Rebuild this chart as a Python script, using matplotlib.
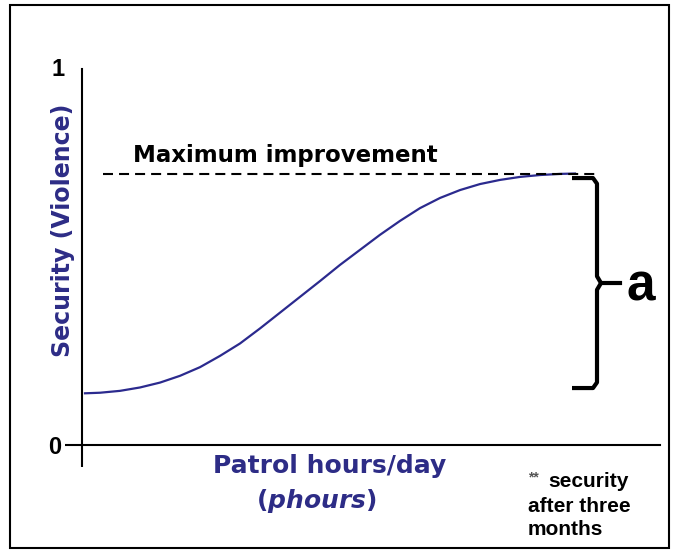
import matplotlib.pyplot as plt
from matplotlib.patches import Rectangle

# curva (x em unidades arbitrarias de horas, y de 0 a 1)
patrol_hours = [0.03, 0.18, 0.38, 0.58, 0.78, 0.98, 1.18, 1.38, 1.58,
                1.78, 1.98, 2.18, 2.38, 2.58, 2.78, 2.98, 3.18, 3.38,
                3.58, 3.78, 3.98, 4.18, 4.38, 4.58, 4.78, 4.93]
security = [0.1375, 0.139, 0.144, 0.153, 0.166, 0.184, 0.207, 0.237, 0.270,
            0.310, 0.352, 0.394, 0.436, 0.479, 0.519, 0.559, 0.596, 0.630,
            0.657, 0.678, 0.694, 0.705, 0.713, 0.718, 0.721, 0.722]
y_ticks = [0, 1]
y_tick_labels = ['0', '1']

blue = '#2d2c86'
curve_blue = '#2b2a8e'

plt.rcParams['mathtext.fontset'] = 'custom'
plt.rcParams['mathtext.it'] = 'DejaVu Sans:italic:bold'
plt.rcParams['mathtext.rm'] = 'DejaVu Sans:bold'

W, H = 673, 554
fig = plt.figure(figsize=(W / 100, H / 100), dpi=100)
ax = fig.add_axes([82 / W, (H - 445) / H, (660 - 82) / W, (445 - 69) / H])
ax.set_xlim(0, 5.78)
ax.set_ylim(0, 1)

# eixos
for s in ['top', 'right']:
    ax.spines[s].set_visible(False)
for s in ['left', 'bottom']:
    ax.spines[s].set_linewidth(1.5)
ax.set_xticks([0])
ax.set_xticklabels([''])
ax.set_yticks(y_ticks[:1])
ax.set_yticklabels(y_tick_labels[:1], fontfamily='Liberation Sans',
                   fontweight='bold', fontsize=17)
ax.tick_params(axis='x', length=15.8, width=1.5, direction='out')
ax.tick_params(axis='y', length=12.2, width=1.5, direction='out', pad=3)
# o "1" fica sem traco de marcacao
ax.text(-0.17, y_ticks[1], y_tick_labels[1], fontfamily='Liberation Sans',
        fontweight='bold', fontsize=17, ha='right', va='center')

# curva
ax.plot(patrol_hours, security, color=curve_blue, lw=1.6, clip_on=False,
        solid_joinstyle='round')

# linha de melhoria maxima
ymax = max(security)
ymin = min(security)
ax.plot([0.21, 5.16], [ymax, ymax], color='black', lw=1.5,
        dashes=(4.8, 2.9), clip_on=False)
ax.text(0.51, 0.753, 'Maximum improvement', fontfamily='DejaVu Sans',
        fontweight='bold', fontsize=16.5, va='baseline', ha='left')

# chave "a"
top = ymax - 0.012
bot = ymin + 0.014
mid = (top + bot) / 2
bx = [4.90, 5.11, 5.15, 5.15, 5.19, 5.15, 5.15, 5.11, 4.90]
by = [top, top, top - 0.015, mid + 0.018, mid, mid - 0.018, bot + 0.015, bot, bot]
ax.plot(bx, by, color='black', lw=3, solid_joinstyle='round',
        solid_capstyle='butt', clip_on=False)
ax.plot([5.19, 5.38], [mid, mid], color='black', lw=3, clip_on=False)
ax.text(5.59, 0.385, 'a', fontfamily='Liberation Sans', fontweight='bold',
        fontsize=37, ha='center', va='baseline')

# rotulos
ax.text(-0.19, 0.572, 'Security (Violence)', rotation=90, color=blue,
        fontfamily='DejaVu Sans', fontweight='bold', fontsize=17,
        ha='center', va='center')
ax.text(2.48, -0.074, 'Patrol hours/day', color=blue, fontfamily='DejaVu Sans',
        fontweight='bold', fontsize=18, ha='center', va='baseline')
ax.text(2.34, -0.168, r'($\mathit{phours}$)', color=blue,
        fontfamily='DejaVu Sans', fontweight='bold', fontsize=18,
        ha='center', va='baseline')

# nota
ax.text(4.46, -0.096, '**', color='#555555', fontfamily='Liberation Sans',
        fontweight='bold', fontsize=10, ha='left', va='baseline')
ax.text(4.66, -0.112, 'security', fontfamily='Liberation Sans',
        fontweight='bold', fontsize=15, ha='left', va='baseline')
ax.text(4.46, -0.178, 'after three', fontfamily='Liberation Sans',
        fontweight='bold', fontsize=15, ha='left', va='baseline')
ax.text(4.46, -0.239, 'months', fontfamily='Liberation Sans',
        fontweight='bold', fontsize=15, ha='left', va='baseline')

# moldura
fig.patches.append(Rectangle((10 / W, (H - 548) / H), 659 / W, 543 / H,
                             transform=fig.transFigure, fill=False,
                             edgecolor='black', lw=1.5))

fig.savefig('out.png', dpi=100)
